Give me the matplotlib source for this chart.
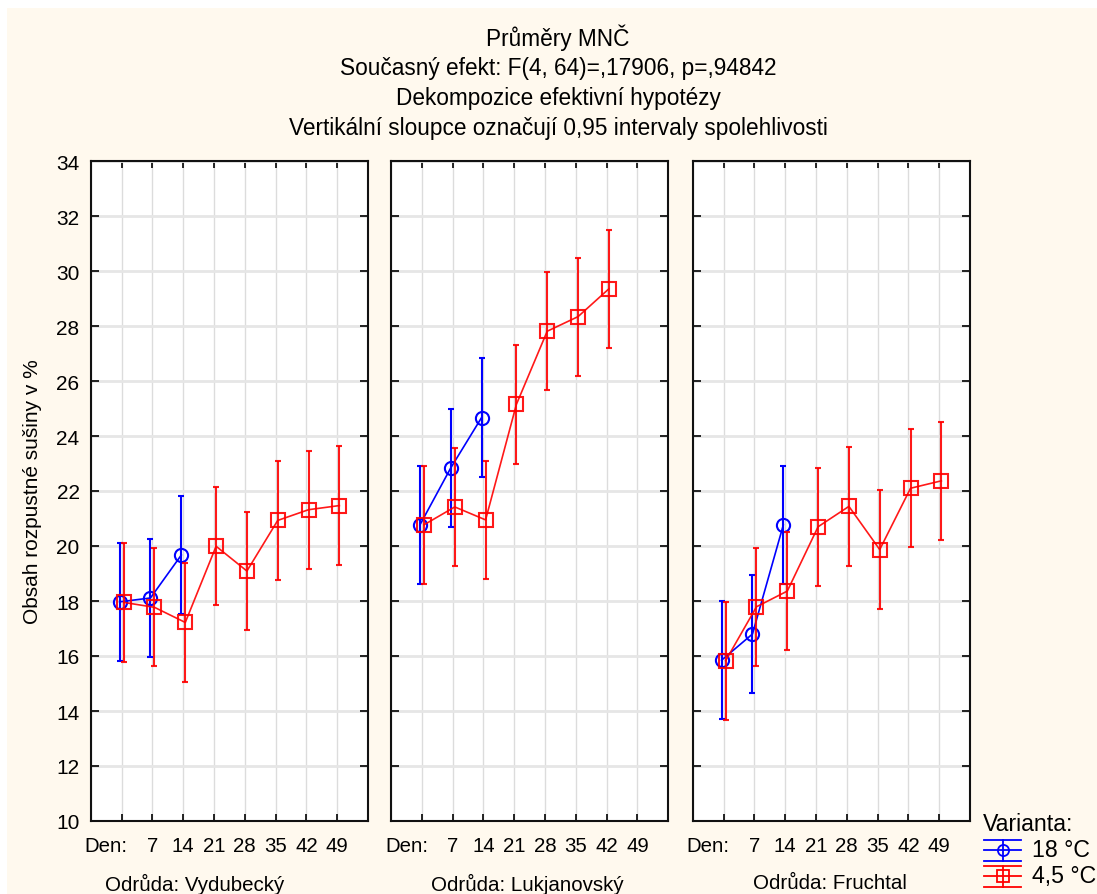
import matplotlib.pyplot as plt
from matplotlib.lines import Line2D
from matplotlib.patches import Rectangle

plt.rcParams['font.family'] = ['Liberation Sans', 'DejaVu Sans']

# sampling days and their tick labels
days = [0, 7, 14, 21, 28, 35, 42, 49]
day_labels = ['Den:', '7', '14', '21', '28', '35', '42', '49']
varieties = ['Vydubecký', 'Lukjanovský', 'Fruchtal']
variants = ['18 °C', '4,5 °C']

# least-squares means, soluble solids (%)
vyd_18 = [17.97, 18.11, 19.67]
vyd_45 = [17.95, 17.77, 17.22, 19.99, 19.09, 20.93, 21.32, 21.47]
luk_18 = [20.77, 22.84, 24.67]
luk_45 = [20.77, 21.42, 20.95, 25.15, 27.81, 28.34, 29.35]
fru_18 = [15.85, 16.80, 20.76]
fru_45 = [15.83, 17.79, 18.36, 20.70, 21.44, 19.87, 22.10, 22.37]

# half width of the 0.95 confidence interval (pooled error)
ci_half = 2.15

means_18 = [vyd_18, luk_18, fru_18]
means_45 = [vyd_45, luk_45, fru_45]

W, H = 1097, 895
fig = plt.figure(figsize=(W / 100, H / 100), dpi=100, facecolor='white')
fig.patches.append(Rectangle((7 / W, 0), 1, 1 - 9 / H, transform=fig.transFigure,
                             facecolor='#FFF9EE', edgecolor='none', zorder=-10))

blue = '#0000FF'
red = '#FF0000'
panel_left = [90.7, 391.0, 692.7]
label_centers = [195, 527, 830]

for k, name in enumerate(varieties):
    ax = fig.add_axes([panel_left[k] / W, (H - 822) / H, 277.3 / W, 660 / H])
    ax.set_facecolor('white')
    ax.set_xlim(0, 9)
    ax.set_ylim(10, 34)

    m18 = means_18[k]
    m45 = means_45[k]
    x18 = [i + 1 - 0.06 for i in range(len(m18))]
    x45 = [i + 1 + 0.07 for i in range(len(m45))]
    ax.errorbar(x18, m18, yerr=ci_half, color=blue, marker='o', ms=9.5,
                mfc='none', mew=1.5, lw=1.2, elinewidth=1.5, capsize=2,
                capthick=1.5, zorder=3)
    ax.errorbar(x45, m45, yerr=ci_half, color=red, marker='s', ms=10,
                mfc='none', mew=1.5, lw=1.2, elinewidth=1.5, capsize=2,
                capthick=1.5, zorder=4, alpha=0.9)

    # gridlines / tick marks on every day slot, labels shifted
    ax.set_xticks(range(0, 10), minor=True)
    ax.set_xticks([0.5] + list(range(2, 9)))
    ax.set_xticklabels(day_labels, fontsize=14.7)
    ax.xaxis.remove_overlapping_locs = False
    ax.tick_params(axis='x', which='major', length=0, pad=11)
    ax.tick_params(axis='x', which='minor', direction='in', length=5,
                   width=1.2, top=True, bottom=True)
    ax.grid(True, axis='x', which='minor', color='#DCDCDC', lw=1.0)

    ax.set_yticks(range(10, 35, 2))
    ax.tick_params(axis='y', direction='in', length=6, width=1.2,
                   left=True, right=True, labelsize=15, pad=8)
    ax.grid(True, axis='y', which='major', color='#E6E6E6', lw=2.0)
    ax.set_axisbelow(True)
    if k > 0:
        ax.set_yticklabels([])

    for s in ax.spines.values():
        s.set_linewidth(1.5)
        s.set_color('#111111')

    fig.text(label_centers[k] / W, 1 - 884 / H, 'Odrůda: ' + name,
             ha='center', va='center', fontsize=14.8)

titles = ['Průměry MNČ',
          'Současný efekt: F(4, 64)=,17906, p=,94842',
          'Dekompozice efektivní hypotézy',
          'Vertikální sloupce označují 0,95 intervaly spolehlivosti']
for i, t in enumerate(titles):
    fig.text(558 / W, 1 - (38 + 30 * i) / H, t, ha='center', va='center',
             fontsize=16.3)

fig.text(33 / W, 1 - 492 / H, 'Obsah rozpustné sušiny v %', rotation=90,
         ha='center', va='center', fontsize=15)

# legend
fig.text(983 / W, 1 - 825 / H, 'Varianta:', ha='left', va='center', fontsize=16.7)
for j, (lab, col, mk) in enumerate(zip(variants, [blue, red], ['o', 's'])):
    yc = 851 + 26 * j
    x0, x1 = 984 / W, 1021 / W
    for dy in (-10.5, 10.5):
        fig.add_artist(Line2D([x0, x1], [1 - (yc + dy) / H] * 2, color=col, lw=1.3))
    fig.add_artist(Line2D([x0, x1], [1 - yc / H] * 2, color=col, lw=1.3))
    fig.add_artist(Line2D([(x0 + x1) / 2] * 2, [1 - (yc - 10.5) / H, 1 - (yc + 10.5) / H],
                          color=col, lw=1.3))
    fig.add_artist(Line2D([(x0 + x1) / 2], [1 - yc / H], color=col, marker=mk,
                          ms=8, mfc='none', mew=1.3, lw=0))
    fig.text(1032 / W, 1 - yc / H, lab, ha='left', va='center', fontsize=16.7)

fig.savefig('out.png', dpi=100, facecolor=fig.get_facecolor())
